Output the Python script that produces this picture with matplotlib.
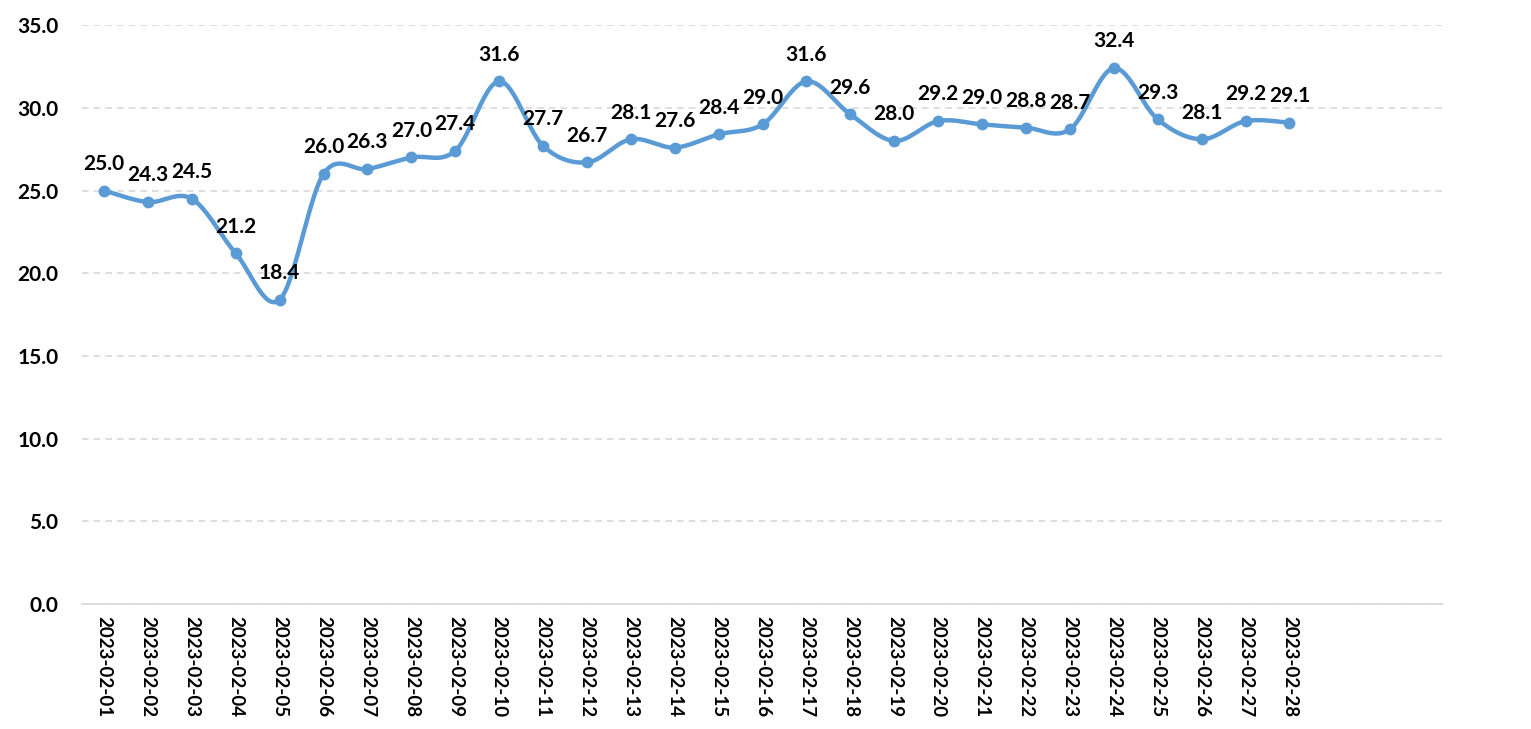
import numpy as np
from matplotlib import pyplot as plt

plt.rcParams['font.family'] = ['Lato', 'DejaVu Sans']

dates = ['2023-02-%02d' % d for d in range(1, 29)]
values = [25.0, 24.3, 24.5, 21.2, 18.4, 26.0, 26.3, 27.0, 27.4, 31.6,
          27.7, 26.7, 28.1, 27.6, 28.4, 29.0, 31.6, 29.6, 28.0, 29.2,
          29.0, 28.8, 28.7, 32.4, 29.3, 28.1, 29.2, 29.1]
yticks = [0, 5, 10, 15, 20, 25, 30, 35]

blue = '#5B9BD5'


def smooth(x, y, steps=30):
    # Catmull-Rom style smoothing like Excel's "smoothed line"
    x = np.asarray(x, float)
    y = np.asarray(y, float)
    px = np.concatenate([[x[0]], x, [x[-1]]])
    py = np.concatenate([[y[0]], y, [y[-1]]])
    xs, ys = [], []
    t = np.linspace(0, 1, steps)
    for i in range(1, len(px) - 2):
        p0, p1, p2, p3 = (np.array([px[j], py[j]]) for j in range(i - 1, i + 3))
        c1 = p1 + (p2 - p0) / 6
        c2 = p2 - (p3 - p1) / 6
        b = ((1 - t) ** 3)[:, None] * p1 + (3 * (1 - t) ** 2 * t)[:, None] * c1 \
            + (3 * (1 - t) * t ** 2)[:, None] * c2 + (t ** 3)[:, None] * p2
        xs.extend(b[:, 0])
        ys.extend(b[:, 1])
    return xs, ys


fig = plt.figure(figsize=(15.31, 7.29), dpi=100)
ax = fig.add_axes([0.0536, 0.1715, 0.889, 0.794])

x = np.arange(len(values))
sx, sy = smooth(x, values)
ax.plot(sx, sy, color=blue, lw=3.2, solid_capstyle='round', zorder=3)
ax.plot(x, values, 'o', color=blue, ms=7.5, zorder=4)

for xi, v in zip(x, values):
    ax.annotate('%.1f' % v, (xi, v), xytext=(0, 12), textcoords='offset points',
                ha='center', va='bottom', fontsize=15, fontweight='bold', zorder=5)

ax.set_xlim(-0.5, 30.5)
ax.set_ylim(0, 35)
ax.set_yticks(yticks)
ax.set_yticklabels(['%.1f' % t for t in yticks], fontsize=15, fontweight='bold')
ax.set_xticks(x)
ax.set_xticklabels(dates, rotation=270, fontsize=13.5, fontweight='bold')
ax.tick_params(axis='both', length=0, pad=9)
ax.tick_params(axis='y', pad=17)

ax.grid(axis='y', color='#D9D9D9', linestyle=(0, (4, 3)), lw=1.2)
ax.set_axisbelow(True)
for s in ['top', 'right', 'left']:
    ax.spines[s].set_visible(False)
ax.spines['bottom'].set_color('#D9D9D9')
ax.spines['bottom'].set_linewidth(1.2)

fig.savefig('out.png', dpi=100)
